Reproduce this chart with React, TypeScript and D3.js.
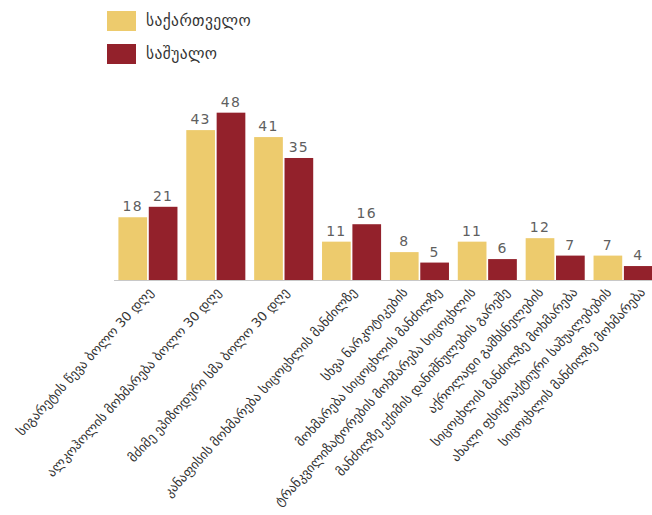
import React from "react";
import * as d3 from "d3";

const categories: string[][] = [
  ["სიგარეტის წევა ბოლო 30 დღე"],
  ["ალკოჰოლის მოხმარება ბოლო 30 დღე"],
  ["მძიმე ეპიზოდური სმა ბოლო 30 დღე"],
  ["კანაფისის მოხმარება სიცოცხლის მანძილზე"],
  ["სხვა ნარკოტიკების", "მოხმარება სიცოცხლის მანძილზე"],
  ["ტრანკვილიზატორების მოხმარება სიცოცხლის", "მანძილზე ექიმის დანიშნულების გარეშე"],
  ["აქროლადი გამხსნელების", "სიცოცხლის მანძილზე მოხმარება"],
  ["ახალი ფსიქოაქტიური საშუალებების", "სიცოცხლის მანძილზე მოხმარება"],
];
const seriesNames = ["საქართველო", "საშუალო"];
const georgia = [18, 43, 41, 11, 8, 11, 12, 7];
const average = [21, 48, 35, 16, 5, 6, 7, 4];
const colors = ["#EDCB6D", "#93212B"];

const W = 652;
const H = 515;
const ANGLE = 47.5;

export default function App() {
  const idx = categories.map((_, i) => String(i));
  const x = d3.scaleBand<string>().domain(idx).range([114, 657]).paddingInner(0.13).paddingOuter(0.065);
  const xs = d3.scaleBand<string>().domain(seriesNames).range([0, x.bandwidth()]).paddingInner(0.055);
  const y = d3.scaleLinear().domain([0, 50]).range([280, 280 - 50 * 3.486]);
  const series = [georgia, average];

  return (
    <svg width={W} height={H} style={{ position: "absolute", left: 0, top: 0, display: "block" }}>
      <rect width={W} height={H} fill="#fff" />
      {seriesNames.map((n, i) => (
        <g key={n}>
          <rect x={107} y={11 + i * 33} width={29} height={20} fill={colors[i]} />
          <text x={146} y={21 + i * 33} dominantBaseline="central" fontFamily="DejaVu Sans" fontSize={15.5} letterSpacing={0.4} fill="#333">
            {n}
          </text>
        </g>
      ))}
      <line x1={114} x2={W} y1={280.5} y2={280.5} stroke="#c8c8c8" strokeWidth={1.2} />
      {idx.map((k, ci) => (
        <g key={k} transform={`translate(${x(k)},0)`}>
          {seriesNames.map((n, si) => {
            const v = series[si][ci];
            const bx = xs(n)!;
            return (
              <g key={n}>
                <rect x={bx} y={y(v)} width={xs.bandwidth()} height={y(0) - y(v)} fill={colors[si]} />
                <text
                  x={bx + xs.bandwidth() / 2}
                  y={y(v) - 6}
                  textAnchor="middle"
                  fontFamily="DejaVu Sans"
                  fontSize={14}
                  letterSpacing={1.3}
                  fill="#5f5f5f"
                >
                  {v}
                </text>
              </g>
            );
          })}
        </g>
      ))}
      {categories.map((lines, ci) => {
        const cx = x(String(ci))! + x.bandwidth() / 2;
        return lines.map((line, li) => {
          const off = lines.length === 1 ? 0 : li === 0 ? -17 : 17;
          const ax = cx + 6 + off;
          const ay = 293;
          return (
            <text
              key={ci + "-" + li}
              transform={`translate(${ax},${ay}) rotate(${-ANGLE})`}
              textAnchor="end"
              fontFamily="DejaVu Sans"
              fontSize={13}
              fill="#333"
            >
              {line}
            </text>
          );
        });
      })}
    </svg>
  );
}
